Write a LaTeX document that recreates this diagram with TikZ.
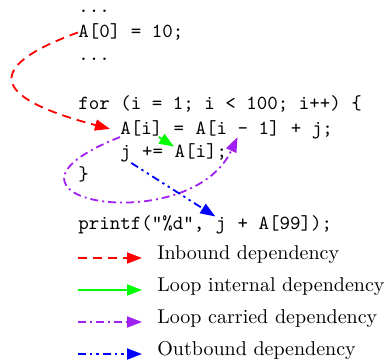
\documentclass[tikz,border=0pt]{standalone}
\usepackage{fontspec}
\usetikzlibrary{arrows.meta,positioning}
\definecolor{carryc}{RGB}{160,32,240}
\tikzset{
  code/.style={anchor=base west,inner sep=0pt,font=\ttfamily},
  leg/.style={anchor=base west,inner sep=0pt,font=\normalsize},
  dep/.style={line width=0.9pt,-{Triangle[length=7.5pt,width=5.5pt]}},
  inbound/.style={dep,color=red,dash pattern=on 4.5pt off 3pt},
  internal/.style={dep,color=green},
  carried/.style={dep,color=carryc,dash pattern=on 4pt off 2pt on 1pt off 2pt},
  outbound/.style={dep,color=blue,dash pattern=on 4pt off 2pt on 1.2pt off 2pt on 1.2pt off 2pt},
}

\begin{document}
\begin{tikzpicture}[x=0.5pt,y=-0.5pt]
  \useasboundingbox (0,0) rectangle (385,363);
  % code lines
  \node[code] (dots1) at (78,13) {...};
  \node[code] (a0) at (78,38) {A[0] = 10;};
  \node[code] (dots2) at (78,61) {...};
  \node[code] (loop) at (78,110) {for (i = 1; i < 100; i++) \{};
  \node[code] (ai) at (120,135) {A[i]};
  \node[code] (eq) at ([xshift=5.25pt]ai.base east) {=};
  \node[code] (aprev) at ([xshift=5.25pt]eq.base east) {A[i - 1]};
  \node[code] (sum) at ([xshift=5.25pt]aprev.base east) {+ j;};
  \node[code] (jv) at (120,158) {j};
  \node[code] (pluseq) at ([xshift=5.25pt]jv.base east) {+=};
  \node[code] (jA) at ([xshift=5.25pt]pluseq.base east) {A[i];};
  \node[code] (close) at (78,181) {\}};
  \node[code] (pf) at (78,229) {printf("\%d",};
  \node[code] (pj) at ([xshift=5.25pt]pf.base east) {j};
  \node[code] (prest) at ([xshift=5.25pt]pj.base east) {+ A[99]);};
  % dependencies
  \draw[inbound] (a0.west) .. controls (-25,70) and (0,100) .. ([xshift=-5pt]ai.west);
  \draw[internal] ([xshift=-2pt]ai.south east) -- ([yshift=-1.5pt]jA.north west);
  \draw[carried] (ai.south west) .. controls (-40,200) and (190,240) .. (aprev.south);
  \draw[outbound] (jv.south east) -- (pj.north west);
  % legend
  \foreach \st/\txt/\y in {inbound/Inbound dependency/258, internal/Loop internal dependency/290,
      carried/Loop carried dependency/322, outbound/Outbound dependency/354}{
    \node[leg] (lg\y) at (157,\y+1) {\txt};
    \coordinate (ls\y) at (78,\y);
    \draw[\st,shorten >=7.5pt] (ls\y) -- (ls\y -| lg\y.west);
  }
\end{tikzpicture}
\end{document}
